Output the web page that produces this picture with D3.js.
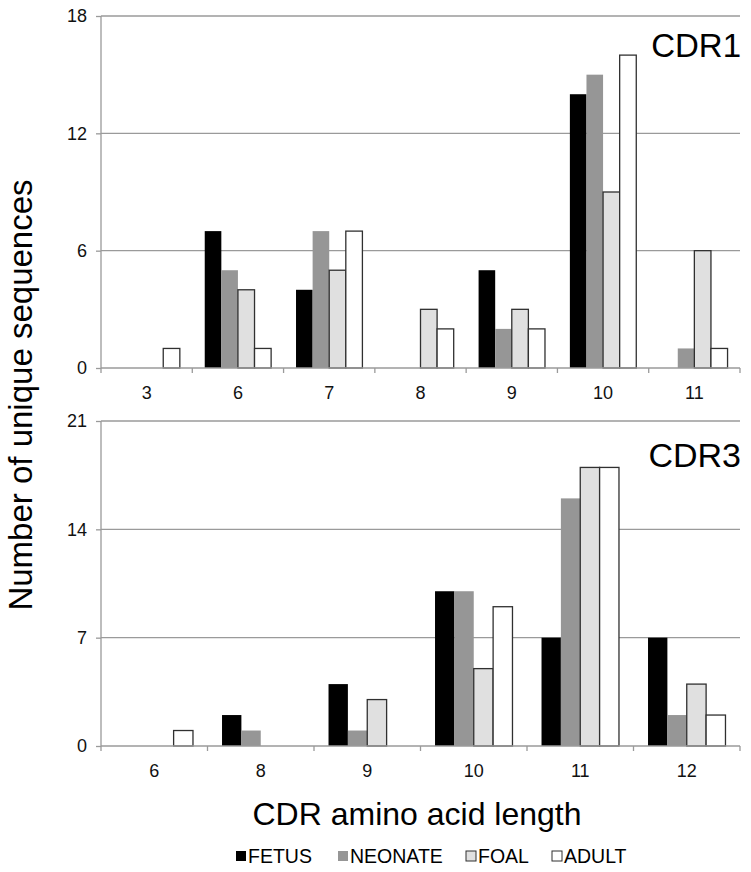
<!DOCTYPE html>
<html><head><meta charset="utf-8">
<script src="https://cdn.jsdelivr.net/npm/d3@7"></script>
<style>body{margin:0;background:#fff}svg{display:block}text{font-family:"Liberation Sans",Arial,sans-serif}</style>
</head><body>
<svg id="c" width="751" height="872"></svg>
<script>
const series = ["FETUS","NEONATE","FOAL","ADULT"];
const colors = ["#000000","#969696","#e0e0e0","#ffffff"];
const strokes = ["none","none","#303030","#303030"];

const cdr1Cats = ["3","6","7","8","9","10","11"];
const cdr1Fetus   = [0,7,4,0,5,14,0];
const cdr1Neonate = [0,5,7,0,2,15,1];
const cdr1Foal    = [0,4,5,3,3,9,6];
const cdr1Adult   = [1,1,7,2,2,16,1];
const cdr1Ticks = [0,6,12,18];

const cdr3Cats = ["6","8","9","10","11","12"];
const cdr3Fetus   = [0,2,4,10,7,7];
const cdr3Neonate = [0,1,1,10,16,2];
const cdr3Foal    = [0,0,3,5,18,4];
const cdr3Adult   = [1,0,0,9,18,2];
const cdr3Ticks = [0,7,14,21];

const svg = d3.select("#c");
const L = 101, R = 740;
const GRID = "#9a9a9a";

function panel(cats, vals, ticks, yTop, yBot, label, labelSize, labelBase) {
  const g = svg.append("g");
  const x = d3.scaleBand().domain(cats).range([L, R]).paddingInner(0).paddingOuter(0);
  const y = d3.scaleLinear().domain([0, ticks[ticks.length-1]]).range([yBot, yTop]);
  const bw = x.bandwidth();
  const pad = bw * 0.75 / 5.5;
  const xs = d3.scaleBand().domain(series).range([pad, bw - pad]);

  const yAxis = d3.axisLeft(y).tickValues(ticks).tickSize(5).tickPadding(9).tickFormat(d3.format("d"));
  const ya = g.append("g").attr("transform", `translate(${L},0)`).call(yAxis);
  ya.select(".domain").attr("stroke", GRID).attr("stroke-width", 1.3).attr("d", `M0,${yTop}V${yBot}`);
  ya.selectAll(".tick line").attr("stroke", GRID).attr("stroke-width", 1.3);
  ya.selectAll(".tick text").attr("font-size", 18).attr("fill", "#111").attr("font-family", '"Liberation Sans",Arial,sans-serif');
  g.append("g").selectAll("line").data(ticks.filter(t => t > 0)).join("line")
    .attr("x1", L).attr("x2", R).attr("y1", d => y(d)).attr("y2", d => y(d))
    .attr("stroke", GRID).attr("stroke-width", 1.3);

  const data = [];
  cats.forEach((c, i) => series.forEach((s, j) => data.push({c, s, j, v: vals[j][i]})));
  g.append("g").selectAll("rect").data(data.filter(d => d.v > 0)).join("rect")
    .attr("x", d => x(d.c) + xs(d.s))
    .attr("width", xs.bandwidth())
    .attr("y", d => y(d.v))
    .attr("height", d => y(0) - y(d.v))
    .attr("fill", d => colors[d.j])
    .attr("stroke", d => strokes[d.j])
    .attr("stroke-width", 1.3);

  const xa = g.append("g");
  xa.append("line").attr("x1", L).attr("x2", R).attr("y1", yBot).attr("y2", yBot)
    .attr("stroke", GRID).attr("stroke-width", 1.3);
  const bounds = cats.map(c => x(c)).concat([R]);
  xa.selectAll("line.t").data(bounds).join("line").attr("class", "t")
    .attr("x1", d => d).attr("x2", d => d).attr("y1", yBot).attr("y2", yBot + 5)
    .attr("stroke", GRID).attr("stroke-width", 1.3);
  xa.selectAll("text").data(cats).join("text")
    .attr("x", d => x(d) + bw / 2).attr("y", yBot + 30.5)
    .attr("text-anchor", "middle").attr("font-size", 18).attr("fill", "#111").text(d => d);

  g.append("text").attr("x", R + 1).attr("y", labelBase).attr("text-anchor", "end")
    .attr("font-size", labelSize).attr("fill", "#000").text(label);
}

panel(cdr1Cats, [cdr1Fetus, cdr1Neonate, cdr1Foal, cdr1Adult], cdr1Ticks, 16, 368, "CDR1", 33, 57);
panel(cdr3Cats, [cdr3Fetus, cdr3Neonate, cdr3Foal, cdr3Adult], cdr3Ticks, 421, 746, "CDR3", 34, 467);

svg.append("text").attr("transform", "translate(32,395) rotate(-90)")
  .attr("text-anchor", "middle").attr("font-size", 33).attr("fill", "#000")
  .text("Number of unique sequences");

svg.append("text").attr("x", 417).attr("y", 825).attr("text-anchor", "middle")
  .attr("font-size", 32).attr("fill", "#000").text("CDR amino acid length");

const legX = [236, 338, 466, 552];
const lg = svg.append("g");
series.forEach((s, j) => {
  lg.append("rect").attr("x", legX[j]).attr("y", 851).attr("width", 10).attr("height", 10)
    .attr("fill", colors[j]).attr("stroke", strokes[j] === "none" ? "none" : "#303030").attr("stroke-width", 1);
  lg.append("text").attr("x", legX[j] + 12).attr("y", 863).attr("font-size", 19.5)
    .attr("fill", "#000").text(s);
});
</script>
</body></html>
